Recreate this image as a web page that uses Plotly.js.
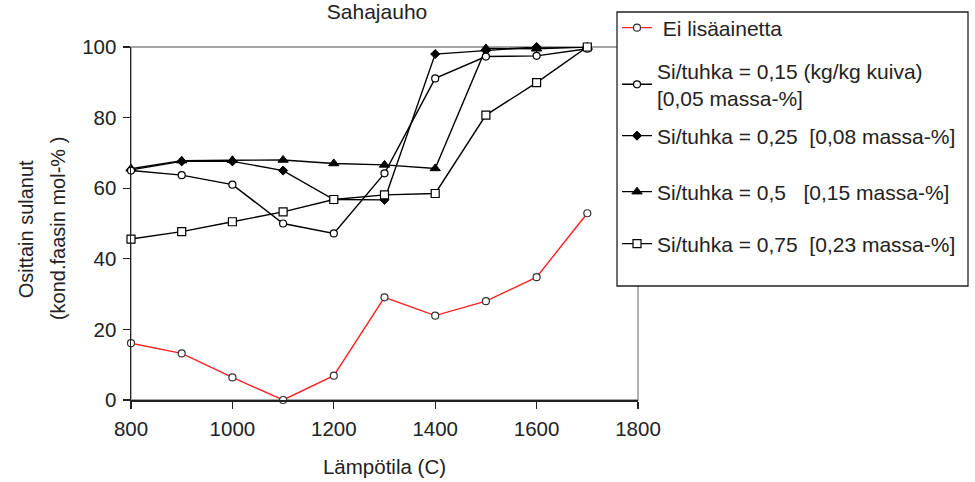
<!DOCTYPE html>
<html>
<head>
<meta charset="utf-8">
<script src="https://cdn.plot.ly/plotly-3.0.1.min.js"></script>
<style>html,body{margin:0;padding:0;background:#fff;}#chart{width:975px;height:482px;}</style>
</head>
<body>
<div id="chart"></div>
<script>
var temps = [800, 900, 1000, 1100, 1200, 1300, 1400, 1500, 1600, 1700];
var eiLisaainetta = [16.1, 13.2, 6.4, 0, 6.9, 29.1, 23.9, 28.0, 34.8, 52.9];
var si015 = [65.0, 63.7, 61.0, 50.0, 47.2, 64.2, 91.1, 97.3, 97.5, 99.5];
var si025 = [65.2, 67.6, 67.6, 65.0, 56.8, 56.7, 98.0, 99.0, 100, 100];
var si05 = [65.5, 67.8, 67.9, 68.0, 67.0, 66.6, 65.6, 99.6, 99.5, 100];
var si075 = [45.6, 47.7, 50.5, 53.3, 56.8, 58.1, 58.5, 80.7, 89.9, 100];
var seriesNames = [
  '\u00a0Ei lisäainetta',
  'Si/tuhka = 0,15 (kg/kg kuiva)<br>[0,05 massa-%]',
  'Si/tuhka = 0,25 \u00a0[0,08 massa-%]',
  'Si/tuhka = 0,5 \u00a0\u00a0[0,15 massa-%]',
  'Si/tuhka = 0,75 \u00a0[0,23 massa-%]'
];
var xTicks = [800, 1000, 1200, 1400, 1600, 1800];
var yTicks = [0, 20, 40, 60, 80, 100];

var font = 'Liberation Sans, Arial, sans-serif';
var ink = '#222';

function tr(y, name, legendId, lineColor, marker) {
  return {
    x: temps, y: y, name: name, type: 'scatter', mode: 'lines+markers',
    legend: legendId,
    line: {color: lineColor, width: 1.4},
    marker: marker,
    cliponaxis: false
  };
}

var data = [
  tr(si025, seriesNames[2], 'legend3', '#000', {symbol: 'diamond', size: 7, color: '#000', line: {color: '#000', width: 1}}),
  tr(si05, seriesNames[3], 'legend4', '#000', {symbol: 'triangle-up', size: 9, color: '#000', line: {color: '#000', width: 1}}),
  tr(si015, seriesNames[1], 'legend2', '#000', {symbol: 'circle', size: 7, color: '#fff', line: {color: '#000', width: 1.2}}),
  tr(si075, seriesNames[4], 'legend5', '#000', {symbol: 'square', size: 8, color: '#fff', line: {color: '#000', width: 1.2}}),
  tr(eiLisaainetta, seriesNames[0], 'legend', '#ff2020', {symbol: 'circle', size: 7, color: '#fff', line: {color: '#333', width: 1.2}})
];

function leg(yc) {
  return {
    x: 0.9586, xanchor: 'left', y: yc, yanchor: 'middle',
    borderwidth: 0, bgcolor: 'rgba(0,0,0,0)',
    font: {family: font, size: 21, color: ink},
    itemwidth: 30
  };
}

var layout = {
  width: 975, height: 482,
  paper_bgcolor: '#fff', plot_bgcolor: '#fff',
  margin: {l: 131, r: 337, t: 47, b: 82, pad: 0, autoexpand: false},
  font: {family: font, size: 20, color: ink},
  title: {text: 'Sahajauho', x: 0.3867, xref: 'container', xanchor: 'center', y: 0.975, yref: 'container', yanchor: 'middle', font: {family: font, size: 21, color: ink}},
  showlegend: true,
  legend: leg(1.0538),
  legend2: leg(0.8938),
  legend3: leg(0.7479),
  legend4: leg(0.5892),
  legend5: leg(0.4419),
  xaxis: {
    range: [800, 1800], tickvals: xTicks, ticktext: xTicks.map(String),
    showgrid: false, zeroline: false,
    showline: true, linecolor: ink, linewidth: 1.5,
    ticks: 'outside', ticklen: 7, tickcolor: ink, tickwidth: 1.2,
    ticklabelstandoff: 3,
    tickfont: {family: font, size: 20.5, color: ink},
    title: {text: 'Lämpötila (C)', standoff: 20, font: {family: font, size: 20.5, color: ink}}
  },
  yaxis: {
    range: [0, 100], tickvals: yTicks, ticktext: yTicks.map(String),
    showgrid: false, zeroline: false,
    showline: true, linecolor: ink, linewidth: 1.5,
    ticks: 'outside', ticklen: 7, tickcolor: ink, tickwidth: 1.2,
    ticklabelstandoff: 2,
    tickfont: {family: font, size: 20.5, color: ink}
  },
  shapes: [
    {type: 'rect', xref: 'x domain', yref: 'y domain', x0: 0, x1: 1, y0: 0, y1: 1, line: {color: '#888', width: 1.3}, layer: 'below'},
    {type: 'rect', xref: 'paper', yref: 'paper', x0: 0.9586, x1: 1.6509, y0: 0.3229, y1: 1.0992, fillcolor: '#fff', line: {color: ink, width: 1.3}, layer: 'above'}
  ],
  annotations: [
    {text: 'Osittain sulanut', xref: 'paper', yref: 'paper', x: -0.207, y: 0.484, xanchor: 'center', yanchor: 'middle', textangle: -90, showarrow: false, font: {family: font, size: 20, color: ink}},
    {text: '(kond.faasin mol-% )', xref: 'paper', yref: 'paper', x: -0.144, y: 0.487, xanchor: 'center', yanchor: 'middle', textangle: -90, showarrow: false, font: {family: font, size: 20, color: ink}}
  ]
};

Plotly.newPlot('chart', data, layout, {displayModeBar: false, staticPlot: true});
</script>
</body>
</html>
